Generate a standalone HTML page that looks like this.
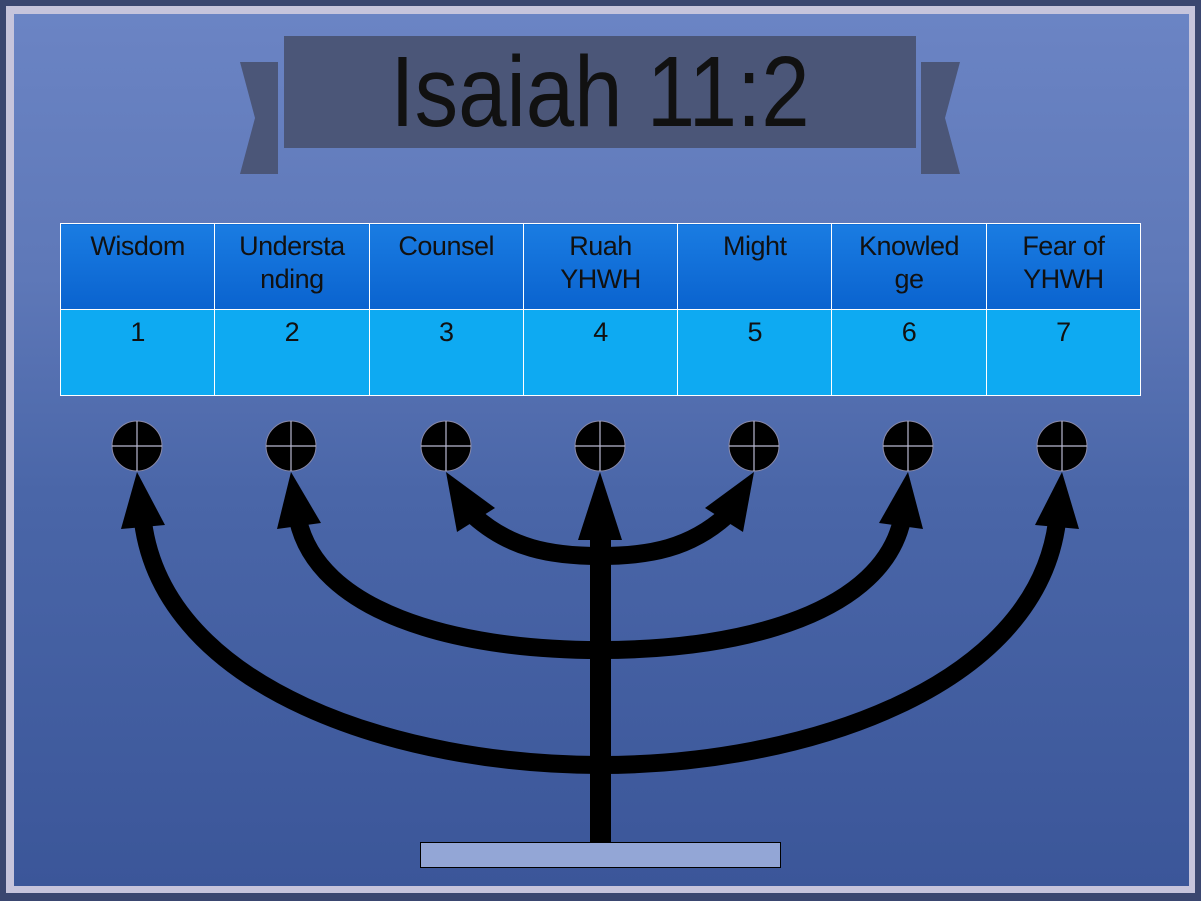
<!DOCTYPE html>
<html><head><meta charset="utf-8"><style>
html,body{margin:0;padding:0;width:1201px;height:901px;overflow:hidden;background:#3a4670}
.f{position:absolute;left:6px;top:6px;width:1189px;height:887px;background:#c6c4dc}
.in{position:absolute;left:14px;top:14px;width:1175px;height:872px;background:linear-gradient(#6b84c4 0%,#5e78b8 30%,#4a66a8 55%,#3b5699 100%)}
.ban{position:absolute;left:284px;top:36px;width:632px;height:112px;background:#4b5678}
.t{position:absolute;left:284px;top:36px;width:632px;height:112px;text-align:center;font:100px/112px "Liberation Sans",sans-serif;color:#111;transform:scaleX(0.87);white-space:nowrap}
table{position:absolute;left:60px;top:223px;width:1081px;table-layout:fixed;border-collapse:collapse;font:27px/33px "Liberation Sans",sans-serif;color:#111}
td{border:1px solid #fff;text-align:center;vertical-align:top;padding:6px 0 0;letter-spacing:-0.5px}
tr.a td{height:79px;background:linear-gradient(#1a7ce2,#0a63cf)}
tr.b td{height:79px;background:#0eaaf2}
svg{position:absolute;left:0;top:0}
</style></head><body>
<div class="f"></div><div class="in"></div>
<svg width="1201" height="901">
<polygon points="240,62 278,62 278,174 240,174 255,118" fill="#4b5678"/>
<polygon points="921,62 960,62 945,118 960,174 921,174" fill="#4b5678"/>
</svg>
<div class="ban"></div>
<div class="t">Isaiah 11:2</div>
<table>
<tr class="a"><td>Wisdom</td><td>Understa<br>nding</td><td>Counsel</td><td>Ruah<br>YHWH</td><td>Might</td><td>Knowled<br>ge</td><td>Fear of<br>YHWH</td></tr>
<tr class="b"><td>1</td><td>2</td><td>3</td><td>4</td><td>5</td><td>6</td><td>7</td></tr>
</table>
<svg width="1201" height="901">
<g fill="none" stroke="#000" stroke-width="18">
<path d="M143 522 C165 690,400 765,600 765 C800 765,1035 690,1057 522"/>
<path d="M298 520 C318 610,450 650,600 650 C750 650,882 610,902 520"/>
<path d="M474 516 C510 548,550 556,600 556 C650 556,690 548,726 516"/>
</g>
<g fill="#000">
<polygon points="137,472 165,525 121,529"/>
<polygon points="1062,472 1035,525 1079,529"/>
<polygon points="291,472 321,523 277,529"/>
<polygon points="908,472 879,523 923,529"/>
<polygon points="446,472 495,508 457,532"/>
<polygon points="754,472 705,508 743,532"/>
</g>
<rect x="590" y="530" width="21" height="312" fill="#000"/>
<polygon points="600,472 578,540 622,540" fill="#000"/>
<g fill="#000" stroke="#8a8aa8" stroke-width="1">
<circle cx="137" cy="446" r="25"/><circle cx="291" cy="446" r="25"/><circle cx="446" cy="446" r="25"/><circle cx="600" cy="446" r="25"/><circle cx="754" cy="446" r="25"/><circle cx="908" cy="446" r="25"/><circle cx="1062" cy="446" r="25"/>
</g>
<g stroke="#b8b8d0" stroke-width="1.2">
<path d="M112 446h50M137 421v50M266 446h50M291 421v50M421 446h50M446 421v50M575 446h50M600 421v50M729 446h50M754 421v50M883 446h50M908 421v50M1037 446h50M1062 421v50"/>
</g>
<rect x="420.5" y="842.5" width="360" height="25" fill="#93a6d6" stroke="#000"/>
</svg>
</body></html>
